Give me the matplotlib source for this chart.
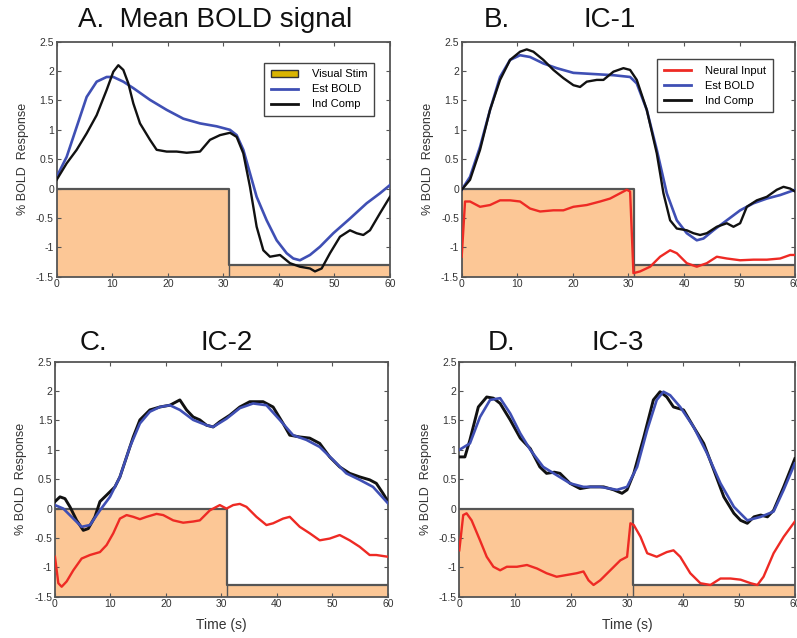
import matplotlib
matplotlib.use("Agg")
import matplotlib.pyplot as plt
from matplotlib.patches import Patch
from matplotlib.lines import Line2D
from matplotlib.ticker import FuncFormatter

plt.rcParams["font.family"] = ["Liberation Sans", "DejaVu Sans"]

STIM_FILL = "#FCC796"
STIM_EDGE = "#555555"
BLUE = "#3F4FB4"
RED = "#EE2A24"
BLACK = "#111111"

# visual stimulus block (on 0-31 s, off 31-60 s)
stim_t = [0, 31, 60]
stim_v = [0, -1.3, -1.3]

# ---- A. Mean BOLD signal ----
a_ind_t = [0, 1.8, 3.6, 5.4, 7.2, 9.0, 10.2, 11.1, 12.0, 12.9, 13.8, 15.0, 16.8, 18.0,
           19.8, 21.6, 23.4, 25.8, 27.6, 29.4, 31.2, 32.4, 33.6, 34.8, 36.0, 37.2, 38.4,
           40.2, 42.0, 43.8, 45.6, 46.5, 47.7, 49.2, 51.0, 52.8, 54.0, 55.2, 56.4, 58.2, 60.0]
a_ind_v = [0.15, 0.43, 0.66, 0.94, 1.25, 1.68, 1.99, 2.10, 2.02, 1.79, 1.45, 1.11, 0.83, 0.66,
           0.63, 0.63, 0.61, 0.63, 0.83, 0.91, 0.95, 0.88, 0.60, 0.03, -0.65, -1.05, -1.16,
           -1.13, -1.27, -1.33, -1.36, -1.41, -1.36, -1.10, -0.82, -0.71, -0.76, -0.79, -0.71, -0.42, -0.14]
a_est_t = [0, 1.8, 3.6, 5.4, 7.2, 9.0, 10.2, 12.0, 13.8, 16.8, 19.8, 22.8, 25.8, 28.8, 31.2,
           32.4, 33.6, 34.8, 36.0, 37.8, 39.6, 41.4, 42.6, 43.8, 45.6, 47.4, 49.8, 52.8, 55.8, 58.2, 60.0]
a_est_v = [0.20, 0.54, 1.05, 1.56, 1.82, 1.90, 1.90, 1.82, 1.71, 1.51, 1.34, 1.19, 1.11, 1.06, 1.00,
           0.91, 0.66, 0.26, -0.14, -0.54, -0.88, -1.10, -1.19, -1.22, -1.13, -0.99, -0.76, -0.51, -0.25, -0.08, 0.06]

# ---- B. IC-1 ----
b_ind_t = [0, 1.5, 3.3, 5.1, 6.9, 8.7, 10.5, 11.7, 12.9, 14.7, 16.5, 18.3, 20.1, 21.3, 22.5,
           24.3, 25.5, 27.3, 29.1, 30.3, 31.5, 33.3, 35.1, 36.3, 37.5, 38.7, 40.5, 41.7, 42.9,
           44.1, 45.9, 47.7, 48.9, 50.1, 51.3, 53.1, 54.9, 56.7, 57.9, 59.1, 60.0]
b_ind_v = [-0.02, 0.15, 0.66, 1.34, 1.85, 2.19, 2.33, 2.37, 2.33, 2.19, 2.02, 1.88, 1.76, 1.73, 1.82,
           1.85, 1.85, 1.99, 2.05, 2.02, 1.85, 1.34, 0.60, -0.08, -0.54, -0.68, -0.71, -0.76, -0.79,
           -0.76, -0.65, -0.59, -0.65, -0.59, -0.31, -0.20, -0.14, -0.02, 0.03, 0.0, -0.05]
b_est_t = [0, 1.5, 3.3, 5.1, 6.9, 8.7, 10.5, 12.3, 14.7, 17.1, 20.1, 23.7, 27.3, 30.3, 31.5,
           33.3, 35.1, 36.9, 38.7, 40.5, 42.3, 43.5, 45.3, 47.7, 50.1, 52.5, 54.9, 57.3, 60.0]
b_est_v = [-0.02, 0.20, 0.71, 1.34, 1.90, 2.19, 2.27, 2.24, 2.13, 2.05, 1.97, 1.95, 1.93, 1.90, 1.79,
           1.34, 0.66, -0.08, -0.54, -0.76, -0.88, -0.85, -0.71, -0.54, -0.37, -0.25, -0.17, -0.11, -0.02]
b_neu_t = [0, 0.6, 1.5, 3.3, 5.1, 6.9, 8.7, 10.5, 12.3, 14.1, 16.5, 18.3, 20.1, 22.5, 24.9, 26.7,
           28.5, 29.7, 30.3, 30.9, 32.1, 33.9, 35.7, 37.5, 38.7, 40.5, 42.3, 44.1, 45.9, 47.7,
           50.1, 52.5, 54.9, 57.3, 59.1, 60.0]
b_neu_v = [-1.16, -0.22, -0.22, -0.31, -0.28, -0.20, -0.20, -0.22, -0.34, -0.39, -0.37, -0.37, -0.31,
           -0.28, -0.22, -0.17, -0.08, -0.02, -0.05, -1.44, -1.41, -1.33, -1.16, -1.05, -1.10, -1.27,
           -1.33, -1.27, -1.16, -1.19, -1.22, -1.21, -1.21, -1.19, -1.13, -1.13]

# ---- C. IC-2 ----
c_ind_t = [0, 0.9, 1.8, 2.7, 3.9, 5.1, 6.0, 7.2, 8.1, 9.3, 10.8, 11.7, 12.9, 14.1, 15.3, 17.1,
           18.9, 20.7, 22.5, 23.7, 24.9, 26.1, 27.3, 28.5, 29.7, 31.5, 33.3, 35.1, 37.5, 39.3,
           41.1, 42.3, 44.1, 45.9, 47.7, 49.5, 51.3, 53.1, 54.9, 56.7, 57.9, 59.1, 60.0]
c_ind_v = [0.12, 0.20, 0.17, 0.03, -0.20, -0.37, -0.34, -0.14, 0.12, 0.23, 0.37, 0.54, 0.88, 1.22,
           1.51, 1.68, 1.73, 1.76, 1.85, 1.68, 1.56, 1.51, 1.42, 1.39, 1.48, 1.59, 1.73, 1.82, 1.82,
           1.73, 1.45, 1.25, 1.22, 1.20, 1.11, 0.88, 0.71, 0.60, 0.54, 0.49, 0.43, 0.26, 0.12]
c_est_t = [0, 1.5, 3.3, 4.8, 6.3, 8.1, 9.9, 11.7, 13.5, 15.3, 17.1, 18.9, 20.7, 22.5, 24.9, 27.3,
           28.5, 30.9, 33.3, 35.7, 38.1, 40.5, 42.9, 45.3, 47.7, 50.1, 52.5, 54.9, 57.3, 60.0]
c_est_v = [0.06, 0.0, -0.17, -0.31, -0.28, -0.03, 0.20, 0.54, 1.05, 1.45, 1.65, 1.73, 1.76, 1.68,
           1.51, 1.42, 1.39, 1.53, 1.71, 1.79, 1.76, 1.51, 1.25, 1.17, 1.05, 0.83, 0.60, 0.49, 0.37, 0.09]
c_neu_t = [0, 0.6, 1.2, 2.1, 3.3, 4.8, 6.3, 8.1, 9.3, 10.5, 11.7, 12.9, 14.1, 15.3, 16.5, 18.3,
           19.5, 21.3, 23.1, 24.9, 26.1, 27.9, 29.7, 30.9, 32.1, 33.3, 34.5, 36.3, 38.1, 39.3,
           41.1, 42.3, 44.1, 45.9, 47.7, 49.5, 51.3, 53.1, 54.9, 56.7, 57.9, 60.0]
c_neu_v = [-0.82, -1.27, -1.33, -1.24, -1.05, -0.85, -0.79, -0.74, -0.62, -0.42, -0.17, -0.11,
           -0.14, -0.18, -0.14, -0.09, -0.11, -0.20, -0.24, -0.22, -0.20, -0.03, 0.06, 0.0, 0.06,
           0.08, 0.03, -0.14, -0.28, -0.25, -0.17, -0.14, -0.31, -0.42, -0.54, -0.51, -0.45, -0.54,
           -0.65, -0.79, -0.79, -0.82]

# ---- D. IC-3 ----
d_ind_t = [0, 1.0, 1.9, 3.4, 4.9, 6.1, 7.3, 9.1, 10.9, 12.7, 14.4, 15.6, 17.0, 18.0, 19.8, 21.6,
           23.4, 25.8, 27.6, 29.1, 30.0, 31.2, 33.0, 34.7, 35.9, 37.1, 38.3, 40.1, 41.9, 43.7,
           45.5, 47.3, 49.1, 50.3, 51.5, 52.7, 53.9, 55.1, 56.2, 58.0, 60.0]
d_ind_v = [0.88, 0.88, 1.17, 1.73, 1.90, 1.88, 1.79, 1.51, 1.20, 1.02, 0.71, 0.60, 0.62, 0.60, 0.43,
           0.34, 0.37, 0.37, 0.32, 0.26, 0.32, 0.60, 1.22, 1.85, 1.99, 1.90, 1.73, 1.68, 1.39, 1.11,
           0.66, 0.20, -0.08, -0.20, -0.25, -0.14, -0.11, -0.14, -0.03, 0.37, 0.85]
d_est_t = [0, 1.9, 3.7, 5.5, 7.3, 9.1, 10.9, 12.7, 15.0, 17.4, 19.8, 22.2, 25.2, 28.2, 30.0, 31.8,
           33.6, 35.3, 36.5, 37.7, 39.5, 41.9, 44.3, 46.7, 49.1, 51.5, 53.9, 56.2, 58.0, 60.0]
d_est_v = [1.0, 1.11, 1.56, 1.85, 1.88, 1.62, 1.28, 1.0, 0.71, 0.57, 0.43, 0.37, 0.37, 0.32, 0.37,
           0.71, 1.34, 1.85, 1.99, 1.93, 1.73, 1.39, 0.94, 0.43, 0.03, -0.20, -0.14, -0.05, 0.32, 0.77]
d_neu_t = [0, 0.7, 1.3, 2.2, 3.7, 4.9, 6.1, 7.3, 8.5, 10.3, 12.1, 13.9, 15.6, 17.4, 19.2, 21.0,
           22.2, 23.1, 24.0, 25.2, 27.0, 28.8, 30.0, 30.6, 31.2, 32.4, 33.6, 35.3, 37.1, 38.3,
           39.5, 41.3, 43.1, 44.9, 46.7, 48.5, 50.3, 52.1, 53.3, 54.4, 56.2, 58.0, 60.0]
d_neu_v = [-0.71, -0.11, -0.08, -0.20, -0.54, -0.82, -0.99, -1.05, -0.99, -0.99, -0.96, -1.02,
           -1.10, -1.16, -1.13, -1.10, -1.07, -1.22, -1.30, -1.22, -1.05, -0.88, -0.82, -0.25,
           -0.28, -0.48, -0.76, -0.82, -0.74, -0.71, -0.82, -1.10, -1.27, -1.30, -1.19, -1.19,
           -1.21, -1.27, -1.30, -1.16, -0.76, -0.48, -0.22]

X_TICKS = [0, 10, 20, 30, 40, 50, 60]
Y_TICKS = [-1.5, -1, -0.5, 0, 0.5, 1, 1.5, 2, 2.5]


def setup_axes(ax, show_xlabel):
    ax.set_xlim(0, 60)
    ax.set_ylim(-1.5, 2.5)
    ax.set_xticks(X_TICKS)
    ax.set_yticks(Y_TICKS)
    ax.yaxis.set_major_formatter(FuncFormatter(lambda v, p: f"{v:g}"))
    ax.tick_params(direction="in", length=3, width=0.8, top=True, right=True,
                   labelsize=7.5, labelcolor="#333333", color="#555555", pad=2)
    for spine in ax.spines.values():
        spine.set_color("#555555")
        spine.set_linewidth(1.3)
    ax.set_ylabel("% BOLD  Response", fontsize=9, color="#333333", labelpad=5)
    if show_xlabel:
        ax.set_xlabel("Time (s)", fontsize=10, color="#333333", labelpad=6)


def draw_stim(ax):
    ax.fill_between(stim_t, stim_v, -1.5, step="post", color=STIM_FILL, lw=0, zorder=1)
    ax.step(stim_t, stim_v, where="post", color=STIM_EDGE, lw=1.6, zorder=2)
    ax.plot([stim_t[1], stim_t[1]], [stim_v[1], -1.5], color=STIM_EDGE, lw=1.0, zorder=2)


fig = plt.figure(figsize=(7.97, 6.38), dpi=100)
fig.patch.set_facecolor("white")

axA = fig.add_axes([0.0711, 0.5663, 0.4182, 0.3683])
axB = fig.add_axes([0.5793, 0.5663, 0.4184, 0.3683])
axC = fig.add_axes([0.0690, 0.0647, 0.4178, 0.3683])
axD = fig.add_axes([0.5763, 0.0647, 0.4210, 0.3683])

legend_kw = dict(loc="upper right", fontsize=8, fancybox=False, edgecolor="#444444",
                 framealpha=1, handlelength=2.4, labelspacing=0.45, borderpad=0.6,
                 handletextpad=1.3)

# A
draw_stim(axA)
axA.plot(a_est_t, a_est_v, color=BLUE, lw=1.9, zorder=3)
axA.plot(a_ind_t, a_ind_v, color=BLACK, lw=1.7, zorder=4)
setup_axes(axA, False)
handles = [Patch(facecolor="#D9B400", edgecolor="#333333", lw=1.0),
           Line2D([], [], color=BLUE, lw=2), Line2D([], [], color=BLACK, lw=2)]
axA.legend(handles, ["Visual Stim", "Est BOLD", "Ind Comp"], handleheight=0.55,
           bbox_to_anchor=(0.97, 0.935), **legend_kw)

# B
draw_stim(axB)
axB.plot(b_neu_t, b_neu_v, color=RED, lw=1.7, zorder=3)
axB.plot(b_est_t, b_est_v, color=BLUE, lw=1.9, zorder=3)
axB.plot(b_ind_t, b_ind_v, color=BLACK, lw=1.7, zorder=4)
setup_axes(axB, False)
handles = [Line2D([], [], color=RED, lw=2), Line2D([], [], color=BLUE, lw=2),
           Line2D([], [], color=BLACK, lw=2)]
axB.legend(handles, ["Neural Input", "Est BOLD", "Ind Comp"],
           bbox_to_anchor=(0.95, 0.95), **legend_kw)

# C
draw_stim(axC)
axC.plot(c_neu_t, c_neu_v, color=RED, lw=1.7, zorder=3)
axC.plot(c_ind_t, c_ind_v, color=BLACK, lw=2.1, zorder=3)
axC.plot(c_est_t, c_est_v, color=BLUE, lw=1.9, zorder=4)
setup_axes(axC, True)

# D
draw_stim(axD)
axD.plot(d_neu_t, d_neu_v, color=RED, lw=1.7, zorder=3)
axD.plot(d_ind_t, d_ind_v, color=BLACK, lw=2.1, zorder=3)
axD.plot(d_est_t, d_est_v, color=BLUE, lw=1.9, zorder=4)
setup_axes(axD, True)

# panel titles
title_kw = dict(fontsize=20, color="#111111", ha="center", va="center")
fig.text(215 / 797, 1 - 20 / 638, "A.  Mean BOLD signal", **title_kw)
fig.text(497 / 797, 1 - 20 / 638, "B.", **title_kw)
fig.text(610 / 797, 1 - 20 / 638, "IC-1", **title_kw)
fig.text(93 / 797, 1 - 343 / 638, "C.", **title_kw)
fig.text(227 / 797, 1 - 343 / 638, "IC-2", **title_kw)
fig.text(502 / 797, 1 - 343 / 638, "D.", **title_kw)
fig.text(618 / 797, 1 - 343 / 638, "IC-3", **title_kw)

fig.savefig("out.png", dpi=100, facecolor="white")
plt.close(fig)
